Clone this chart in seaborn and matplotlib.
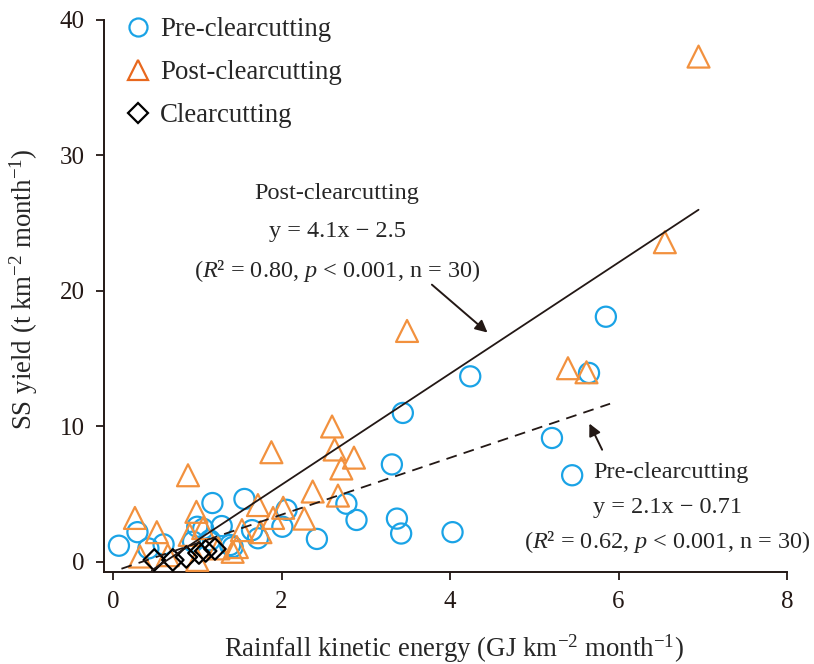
import numpy as np
import pandas as pd
import seaborn as sns
import matplotlib
matplotlib.use("Agg")
import matplotlib.pyplot as plt
from matplotlib.lines import Line2D

# ---- data ----
pre_x = [0.07, 0.29, 0.42, 0.60, 1.18, 1.56, 1.29, 1.07, 1.15, 1.39, 1.65, 1.72, 2.01, 2.06, 2.42,
         2.77, 2.89, 3.37, 3.42, 4.03, 3.31, 3.44, 4.24, 5.21, 5.45, 5.65, 5.85, 1.00, 1.42, 0.95]
pre_y = [1.2, 2.2, 1.0, 1.3, 4.35, 4.65, 2.65, 2.45, 1.6, 1.25, 2.35, 1.75, 2.6, 3.85, 1.7,
         4.3, 3.1, 3.2, 2.1, 2.2, 7.2, 11.0, 13.7, 9.15, 6.4, 13.95, 18.1, 2.6, 1.1, 1.5]

post_x = [6.95, 6.55, 3.49, 5.40, 5.62, 2.60, 2.63, 2.86, 2.71, 2.37, 2.67, 2.27, 1.88, 0.89, 1.72,
          0.99, 0.26, 0.52, 0.91, 1.07, 1.53, 1.90, 2.02, 1.75, 1.47, 0.32, 1.00, 1.42, 1.25, 0.65]
post_y = [37.3, 23.6, 17.05, 14.3, 14.0, 10.0, 8.3, 7.7, 6.9, 5.2, 4.9, 3.2, 8.1, 6.4, 4.2,
          3.7, 3.25, 2.2, 2.0, 2.5, 2.35, 3.25, 4.0, 2.2, 1.1, 0.4, 0.15, 0.75, 1.0, 0.5]

clear_x = [0.49, 0.71, 0.87, 1.02, 1.10, 1.21]
clear_y = [0.15, 0.15, 0.37, 0.66, 0.81, 0.96]

# regression equations (slope, intercept) and drawn x-ranges
post_fit = (4.1, -2.5)
post_range = [0.46, 6.95]
pre_fit = (2.1, -0.71)
pre_range = [0.10, 5.90]

x_ticks = [0, 2, 4, 6, 8]
y_ticks = [0, 10, 20, 30, 40]

# ---- style ----
sns.set_style("ticks")
plt.rcParams['font.family'] = ['Liberation Serif', 'DejaVu Serif']
plt.rcParams['mathtext.fontset'] = 'custom'
plt.rcParams['mathtext.rm'] = 'Liberation Serif'
plt.rcParams['mathtext.it'] = 'Liberation Serif:italic'
plt.rcParams['mathtext.bf'] = 'Liberation Serif:bold'

BLUE = '#1AA3E6'
ORANGE = '#F2913E'
ORANGE_LEG = '#E8681E'
INK = '#231815'
FS = 17.5      # annotations
FS_TICK = 18
FS_LAB = 19.4

fig = plt.figure(figsize=(8.14, 6.64), dpi=100)
ax = fig.add_axes([104 / 814, 1 - 572 / 664, (787 - 104) / 814, (572 - 20) / 664])

df_pre = pd.DataFrame({'x': pre_x, 'y': pre_y})
df_post = pd.DataFrame({'x': post_x, 'y': post_y})
df_clear = pd.DataFrame({'x': clear_x, 'y': clear_y})

sns.scatterplot(data=df_pre, x='x', y='y', ax=ax, marker='o', s=210,
                facecolor='none', edgecolor=BLUE, linewidth=1.6, zorder=3)
sns.scatterplot(data=df_post, x='x', y='y', ax=ax, marker='^', s=250,
                facecolor='none', edgecolor=ORANGE, linewidth=1.6, zorder=3)
sns.scatterplot(data=df_clear, x='x', y='y', ax=ax, marker='D', s=120,
                facecolor='none', edgecolor='black', linewidth=1.6, zorder=4)

# regression lines
px = np.array(post_range)
line_post = pd.DataFrame({'x': px, 'y': post_fit[0] * px + post_fit[1]})
qx = np.array(pre_range)
line_pre = pd.DataFrame({'x': qx, 'y': pre_fit[0] * qx + pre_fit[1]})
sns.lineplot(data=line_post, x='x', y='y', ax=ax, color=INK, linewidth=1.3, zorder=5)
sns.lineplot(data=line_pre, x='x', y='y', ax=ax, color=INK, linewidth=1.3,
             linestyle=(0, (6, 4)), zorder=5)

ax.set_xlim(-0.107, 8)
ax.set_ylim(-0.74, 40)
ax.set_xticks(x_ticks)
ax.set_yticks(y_ticks)
ax.tick_params(direction='out', length=6, width=1.3, labelsize=FS_TICK, colors=INK)
ax.tick_params(axis='y', pad=8)
ax.tick_params(axis='x', pad=8)
for s in ['left', 'bottom']:
    ax.spines[s].set_linewidth(1.4)
    ax.spines[s].set_color(INK)
sns.despine(ax=ax)

ax.set_xlabel('Rainfall kinetic energy (GJ km$^{-2}$ month$^{-1}$)', fontsize=FS_LAB)
ax.set_ylabel('SS yield (t km$^{-2}$ month$^{-1}$)', fontsize=FS_LAB)
ax.xaxis.set_label_coords(0.512, -0.11)
ax.yaxis.set_label_coords(-0.094, 0.512)

# annotations
ax.text(2.66, 27.2, 'Post-clearcutting', ha='center', va='center', fontsize=FS)
ax.text(2.66, 24.4, 'y = 4.1x \u2212 2.5', ha='center', va='center', fontsize=FS)
ax.text(2.66, 21.5, '($R$\u00b2 = 0.80, $p$ < 0.001, n = 30)', ha='center', va='center', fontsize=FS)
ax.annotate('', xy=(4.47, 16.8), xytext=(3.76, 20.6),
            arrowprops=dict(arrowstyle='-|>', color=INK, lw=1.4, mutation_scale=18))

ax.text(6.62, 6.6, 'Pre-clearcutting', ha='center', va='center', fontsize=FS)
ax.text(6.58, 4.05, 'y = 2.1x \u2212 0.71', ha='center', va='center', fontsize=FS)
ax.text(6.58, 1.5, '($R$\u00b2 = 0.62, $p$ < 0.001, n = 30)', ha='center', va='center', fontsize=FS)
ax.annotate('', xy=(5.64, 10.4), xytext=(5.82, 8.1),
            arrowprops=dict(arrowstyle='-|>', color=INK, lw=1.4, mutation_scale=18))

handles = [
    Line2D([], [], linestyle='none', marker='o', markersize=13, markerfacecolor='none',
           markeredgecolor=BLUE, markeredgewidth=1.6, label='Pre-clearcutting'),
    Line2D([], [], linestyle='none', marker='^', markersize=14, markerfacecolor='none',
           markeredgecolor=ORANGE_LEG, markeredgewidth=1.6, label='Post-clearcutting'),
    Line2D([], [], linestyle='none', marker='D', markersize=10, markerfacecolor='none',
           markeredgecolor='black', markeredgewidth=1.6, label='Clearcutting'),
]
ax.legend(handles=handles, loc='upper left', bbox_to_anchor=(0.015, 1.025), frameon=False,
          fontsize=FS_LAB, labelspacing=0.67, handletextpad=0.3, handlelength=1.0,
          borderaxespad=0)

fig.savefig('out.png', dpi=100)
